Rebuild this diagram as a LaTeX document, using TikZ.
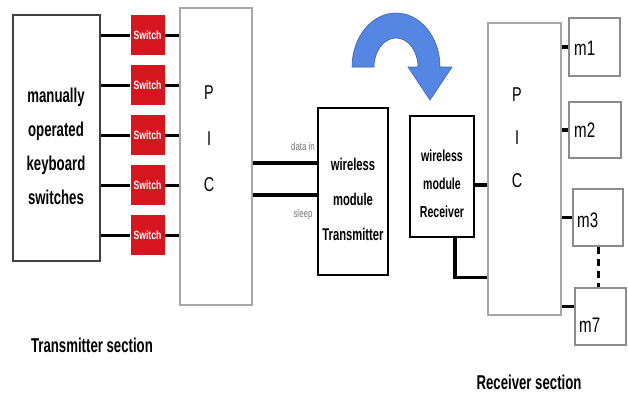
\documentclass[tikz,border=0pt]{standalone}
\usepackage{fontspec}
\setmainfont{Liberation Sans}[FakeStretch=0.72]
\newfontfamily\condensed{Liberation Sans}[FakeStretch=0.66]
\usetikzlibrary{calc, positioning}
\definecolor{switchred}{RGB}{214,22,30}
\definecolor{arrowblue}{RGB}{86,134,228}
\definecolor{arrowedge}{RGB}{58,96,172}

\begin{document}
\begin{tikzpicture}[
    x=1pt, y=-1pt,
    box/.style={draw=black, line width=1.1pt, inner sep=0pt},
    greybox/.style={box, draw=black!35},
    switchbox/.style={fill=switchred, text=white, inner sep=0pt,
        font=\fontsize{12}{13}\selectfont\bfseries,
        minimum width=34pt, minimum height=40pt},
    wire/.style={line width=3.5pt, black},
    bigtext/.style={font=\fontsize{20}{34}\condensed\bfseries, align=center},
    pintext/.style={font=\fontsize{11}{12}\selectfont, text=black!55},
    mtext/.style={font=\fontsize{21}{24}\selectfont, anchor=west, inner sep=0pt}
]
\useasboundingbox (0,0) rectangle (628,392);

% transmitter side
\node[box, draw=black!75, minimum width=87pt, minimum height=246pt] (kb) at (56.5,138) {};
\node[bigtext] (kbtext) at (56,146) {manually\\operated\\keyboard\\switches};
\node[greybox, minimum width=72pt, minimum height=297pt] (pict) at (216,156.5) {};
\node[font=\fontsize{20}{46}\selectfont, align=center] (pictext) at (209,139) {P\\I\\C};
\foreach \i/\y in {1/35, 2/85, 3/135, 4/185, 5/235} {
    \node[switchbox] (sw\i) at (147.5,\y) {Switch};
    \draw[wire, line width=3pt] (sw\i.west -| kb.east) -- (sw\i.west);
    \draw[wire, line width=3pt] (sw\i.east) -- (sw\i.east -| pict.west);
}
\node[box, minimum width=70pt, minimum height=167pt] (txm) at (353,191.5) {};
\node[bigtext, font=\fontsize{17}{35}\condensed\bfseries] (txmtext) at (353,199) {wireless\\module\\Transmitter};
\coordinate (datain) at ($(txm.north west)!0.33!(txm.south west)$);
\coordinate (sleep) at ($(txm.north west)!0.52!(txm.south west)$);
\draw[wire] (pict.east |- datain) -- (datain);
\draw[wire] (pict.east |- sleep) -- (sleep);
\node[pintext] (dinlabel) at (303,147) {data in};
\node[pintext] (sleeplabel) at (303,215) {sleep};
\node[font=\fontsize{20}{24}\condensed\bfseries] (txsec) at (92,345) {Transmitter section};

% wireless link
\fill[arrowblue, draw=arrowedge, line width=0.6pt]
    (352,67) arc[start angle=180, end angle=0, x radius=44pt, y radius=54pt]
    -- (452,67) -- (430,100) -- (408,67) -- (418,67)
    arc[start angle=0, end angle=180, x radius=22pt, y radius=29pt] -- cycle;

% receiver side
\node[box, minimum width=64pt, minimum height=121pt] (rxm) at (442,176.5) {};
\node[bigtext, font=\fontsize{16}{28}\condensed\bfseries] (rxmtext) at (442,184) {wireless\\module\\Receiver};
\node[greybox, minimum width=73pt, minimum height=292pt] (picr) at (524.5,169) {};
\node[font=\fontsize{20}{43}\selectfont, align=center] (picrtext) at (517,138) {P\\I\\C};
\coordinate (rxout) at ($(rxm.north east)!0.57!(rxm.south east)$);
\coordinate (rxdown) at ($(rxm.south west)!0.7!(rxm.south east)$);
\coordinate (rxin) at ($(picr.south west)!0.13!(picr.north west)$);
\draw[wire] (rxout) -- (rxout -| picr.west);
\draw[wire] (rxdown) |- (rxin);
\foreach \n/\x/\y/\w/\h in {1/594.5/47/51/58, 2/595/130/52/56, 3/598/217.5/50/57, 7/600.5/316.5/51/57} {
    \node[greybox, draw=black!45, minimum width=\w pt, minimum height=\h pt] (m\n) at (\x,\y) {};
}
\node[mtext] (m1t) at (574,48) {m1};
\node[mtext] (m2t) at (574,130) {m2};
\node[mtext] (m3t) at (577,220) {m3};
\node[mtext] (m7t) at (579,325) {m7};
\draw[wire] (m1.west) -- (m1.west -| picr.east);
\draw[wire] (m2.west) -- (m2.west -| picr.east);
\draw[wire] (m3.west) -- (m3.west -| picr.east);
\coordinate (m7in) at ($(m7.north west)!0.33!(m7.south west)$);
\draw[wire] (m7in) -- (m7in -| picr.east);
\draw[line width=3pt, dash pattern=on 7pt off 5pt] (m3.south) -- (m3.south |- m7.north);
\node[font=\fontsize{20}{24}\condensed\bfseries] (rxsec) at (529,382) {Receiver section};
\end{tikzpicture}
\end{document}
